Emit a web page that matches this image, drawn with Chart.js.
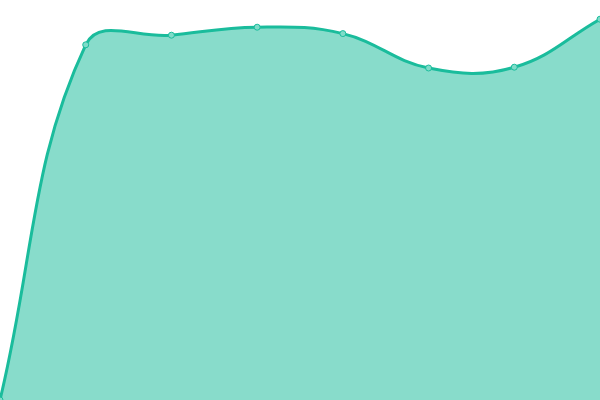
<!DOCTYPE html>
<html>
<head>
<meta charset="utf-8">
<script src="https://cdn.jsdelivr.net/npm/chart.js@4/dist/chart.umd.min.js"></script>
<style>
    html, body { margin: 0; padding: 0; background: #fff; }
    #wrap { width: 600px; height: 400px; }
</style>
</head>
<body>
<div id="wrap"><canvas id="chart"></canvas></div>
<script>
const labels = ['1', '2', '3', '4', '5', '6', '7', '8'];
const values = [0, 88.8, 91.2, 93.2, 91.6, 83, 83.2, 95.2];

new Chart(document.getElementById('chart').getContext('2d'), {
    type: 'line',
    data: {
        labels: labels,
        datasets: [{
            data: values,
            fill: true,
            tension: 0.4,
            borderWidth: 3,
            borderColor: '#1abc9c',
            backgroundColor: 'rgba(26, 188, 156, 0.52)',
            pointRadius: 3,
            pointBorderWidth: 1,
            pointBorderColor: '#1abc9c',
            pointBackgroundColor: '#7fdcc9'
        }]
    },
    options: {
        animation: false,
        responsive: true,
        maintainAspectRatio: false,
        layout: { padding: 0, autoPadding: false },
        plugins: {
            legend: { display: false },
            tooltip: { enabled: false }
        },
        scales: {
            x: { display: false },
            y: { display: false, min: 0, max: 100 }
        }
    }
});
</script>
</body>
</html>
